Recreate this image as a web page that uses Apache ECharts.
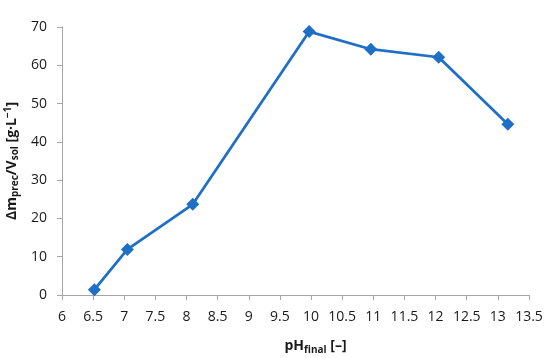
<!DOCTYPE html>
<html><head><meta charset="utf-8">
<script src="https://cdn.jsdelivr.net/npm/echarts@6/dist/echarts.min.js"></script>
<style>html,body{margin:0;padding:0;background:#fff}#c{width:550px;height:358px}</style>
</head><body><div id="c"></div>
<script>
var phFinal = [6.52, 7.05, 8.10, 9.97, 10.96, 12.05, 13.16];
var massPerVol = [1.4, 11.9, 23.7, 68.8, 64.2, 62.1, 44.6];
var xTicks = [6, 6.5, 7, 7.5, 8, 8.5, 9, 9.5, 10, 10.5, 11, 11.5, 12, 12.5, 13, 13.5];
var yTicks = [0, 10, 20, 30, 40, 50, 60, 70];

var data = phFinal.map(function (x, i) { return [x, massPerVol[i]]; });
var font = 'Open Sans, Liberation Sans, sans-serif';
var chart = echarts.init(document.getElementById('c'));
var axisCol = '#a6a6a6';
var txt = '#1a1a1a';
chart.setOption({
  animation: false,
  grid: { left: 62, right: 21, top: 27, bottom: 63, containLabel: false, outerBoundsMode: 'none' },
  xAxis: {
    type: 'value', min: xTicks[0], max: xTicks[xTicks.length - 1], interval: 0.5,
    splitLine: { show: false },
    axisLine: { lineStyle: { color: axisCol, width: 1 } },
    axisTick: { show: true, length: 5, lineStyle: { color: axisCol } },
    axisLabel: { color: txt, fontSize: 14, fontFamily: font, margin: 15 },
    name: '{b|pH}{s|final}{b| [–]}',
    nameLocation: 'middle', nameGap: 43,
    nameTextStyle: {
      padding: [0, 0, 0, 40],
      rich: {
        b: { fontSize: 14, fontWeight: 'bold', fontFamily: font, color: txt },
        s: { fontSize: 10, fontWeight: 'bold', fontFamily: font, color: txt, verticalAlign: 'bottom', padding: [7, 0, 0, 0] }
      }
    }
  },
  yAxis: {
    type: 'value', min: yTicks[0], max: yTicks[yTicks.length - 1], interval: 10,
    splitLine: { show: false },
    axisLine: { show: true, lineStyle: { color: axisCol, width: 1 } },
    axisTick: { show: true, length: 5, lineStyle: { color: axisCol } },
    axisLabel: { color: txt, fontSize: 14, fontFamily: font, margin: 15 },
    name: '{b|Δm}{s|prec}{b|/V}{s|sol}{b| [g·L}{p|−1}{b|]}',
    nameLocation: 'middle', nameGap: 40, nameRotate: 90,
    nameTextStyle: {
      rich: {
        b: { fontSize: 14, fontWeight: 'bold', fontFamily: font, color: txt },
        s: { fontSize: 10, fontWeight: 'bold', fontFamily: font, color: txt, verticalAlign: 'bottom', padding: [7, 0, 0, 0] },
        p: { fontSize: 10, fontWeight: 'bold', fontFamily: font, color: txt, verticalAlign: 'top', padding: [0, 0, 7, 0] }
      }
    }
  },
  series: [{
    type: 'line', data: data,
    symbol: 'diamond', symbolSize: 13,
    lineStyle: { color: '#1f6fc6', width: 2.75 },
    itemStyle: { color: '#1f6fc6' }
  }]
});
</script></body></html>
